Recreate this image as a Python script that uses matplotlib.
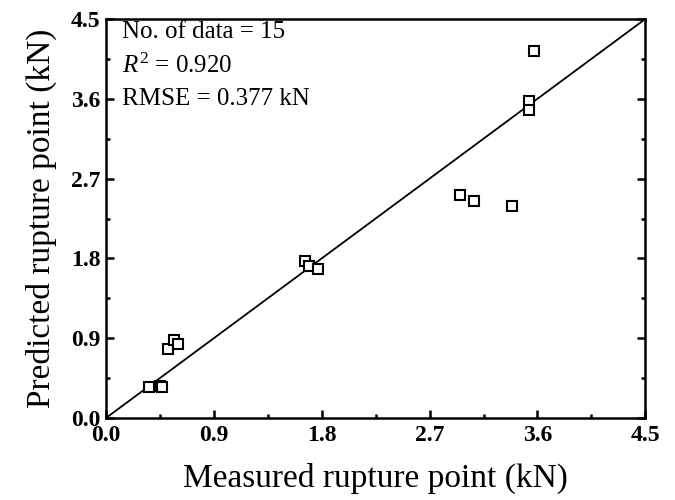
import matplotlib
matplotlib.use("Agg")
import matplotlib.pyplot as plt
import numpy as np
from matplotlib.ticker import MultipleLocator

plt.rcParams['font.family'] = ['Liberation Serif', 'DejaVu Serif']
plt.rcParams['mathtext.fontset'] = 'custom'
plt.rcParams['mathtext.rm'] = 'Liberation Serif'
plt.rcParams['mathtext.it'] = 'Liberation Serif:italic'

measured = [0.36, 0.45, 0.47, 0.52, 0.57, 0.60, 1.66, 1.69, 1.77,
            2.95, 3.07, 3.39, 3.575, 3.53, 3.53]
predicted = [0.35, 0.36, 0.345, 0.78, 0.88, 0.84, 1.77, 1.71, 1.68,
             2.51, 2.45, 2.39, 4.14, 3.57, 3.47]
line_x = [0.0, 4.5]
line_y = [0.0, 4.5]
xticks = [0.0, 0.9, 1.8, 2.7, 3.6, 4.5]
yticks = [0.0, 0.9, 1.8, 2.7, 3.6, 4.5]

fig = plt.figure(figsize=(6.75, 5.0), dpi=100)
ax = fig.add_axes([0.157, 0.164, 0.799, 0.798])

ax.plot(line_x, line_y, color='black', lw=1.3)
ax.plot(measured, predicted, linestyle='none', marker='s', markersize=6.5,
        markerfacecolor='white', markeredgecolor='black', markeredgewidth=1.5)

ax.set_xlim(0, 4.5)
ax.set_ylim(0, 4.5)
ax.set_xticks(xticks)
ax.set_yticks(yticks)
ax.set_xticklabels([f"{v:.1f}" for v in xticks], fontweight='bold')
ax.set_yticklabels([f"{v:.1f}" for v in yticks], fontweight='bold')
ax.xaxis.set_minor_locator(MultipleLocator(0.45))
ax.yaxis.set_minor_locator(MultipleLocator(0.45))
ax.tick_params(which='both', direction='in', top=False, right=True,
               labelsize=17, width=1.8)
ax.tick_params(axis='x', which='both', pad=5)
ax.tick_params(axis='y', which='both', pad=4)
ax.tick_params(which='major', length=6)
ax.tick_params(which='minor', length=3)
for s in ax.spines.values():
    s.set_linewidth(1.8)

ax.set_xlabel('Measured rupture point (kN)', fontsize=24, labelpad=12)
ax.set_ylabel('Predicted rupture point (kN)', fontsize=24, labelpad=10)

ax.text(0.03, 0.995, 'No. of data = 15', transform=ax.transAxes,
        fontsize=18, va='top', ha='left')
ax.text(0.03, 0.912, r'$\it{R}^{2}$ = 0.920', transform=ax.transAxes,
        fontsize=18, va='top', ha='left')
ax.text(0.03, 0.828, 'RMSE = 0.377 kN', transform=ax.transAxes,
        fontsize=18, va='top', ha='left')

fig.savefig('out.png', dpi=100)
